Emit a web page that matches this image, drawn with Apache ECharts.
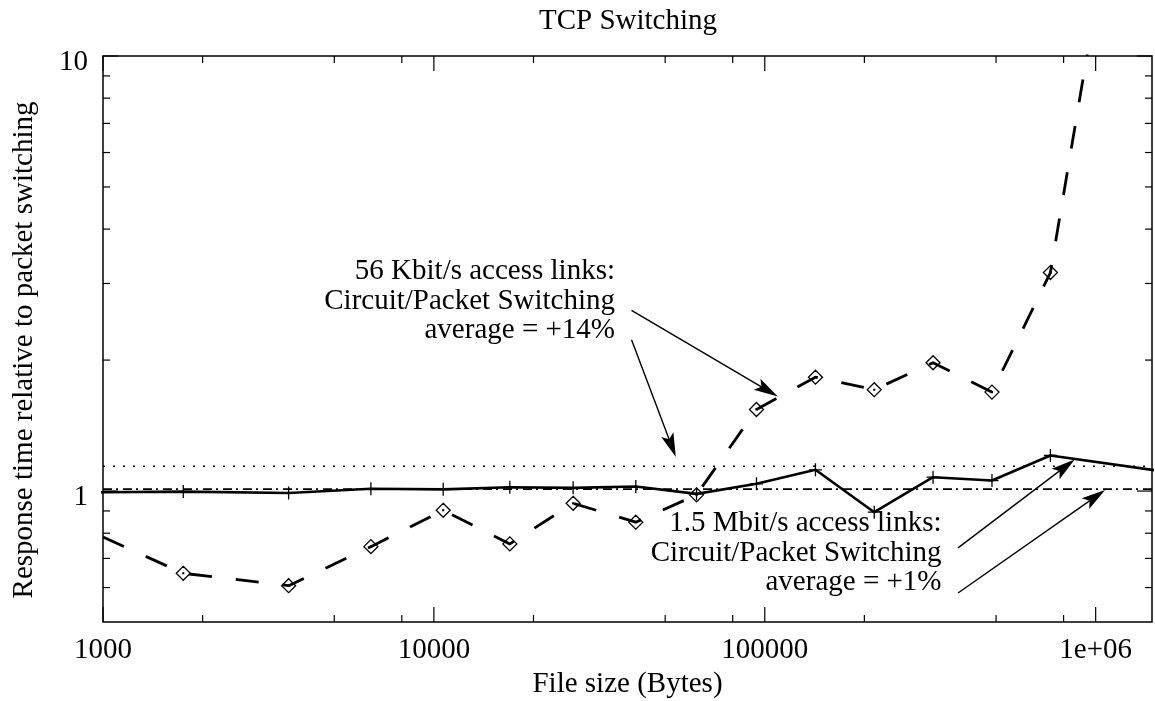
<!DOCTYPE html>
<html><head><meta charset="utf-8">
<script src="https://cdn.jsdelivr.net/npm/echarts@6/dist/echarts.min.js"></script>
<style>html,body{margin:0;padding:0;background:#fff}#c{width:1155px;height:701px}</style>
</head><body><div id="c"></div>
<script>
// ---- data ----
const fileSizes = [600, 1748, 3639, 6451, 10669, 16965, 26352, 40755, 62200, 94380, 142300, 214200, 322500, 486000, 729800, 1600000];
const kbit56 = [0.934, 0.647, 0.606, 0.745, 0.903, 0.756, 0.937, 0.848, 0.98, 1.540, 1.827, 1.710, 1.972, 1.688, 3.178, 110];
const mbit15 = [0.99, 0.997, 0.990, 1.012, 1.009, 1.020, 1.017, 1.024, 0.985, 1.039, 1.119, 0.894, 1.076, 1.057, 1.207, 1.109];
const avg56 = 1.14;
const avg15 = 1.01;
const xRange = [1000, 1480000];
const yRange = [0.5, 10];
const xMajorTicks = [1000, 10000, 100000, 1000000];
const xMinorTicks = [2000, 5000, 8000, 20000, 50000, 80000, 200000, 500000, 800000];
const yMajorTicks = [1, 10];
const yMinorTicks = [0.6, 0.7, 0.8, 0.9, 2, 3, 4, 5, 6, 7, 8, 9];
const xTickLabels = [[1000, '1000'], [10000, '10000'], [100000, '100000'], [1000000, '1e+06']];
const yTickLabels = [[1, '1'], [10, '10']];
// annotation arrows: [fromX, fromY, toX, toY] in data units
const arrows = [
  [39570, 2.228, 53840, 1.197],
  [39570, 2.603, 109500, 1.650],
  [383700, 0.740, 864400, 1.182],
  [383700, 0.583, 1068000, 1.006]
];
const title = 'TCP Switching';
const xName = 'File size (Bytes)';
const yName = 'Response time relative to packet switching';
const note56 = '56 Kbit/s access links:\nCircuit/Packet Switching\naverage = +14%';
const note15 = '1.5 Mbit/s access links:\nCircuit/Packet Switching\naverage = +1%';

// ---- chart ----
const FONT = 'Liberation Serif, Times New Roman, serif';
const FS = 29;
function pick(list, v) {
  for (const [k, s] of list) if (Math.abs(Math.log10(v) - Math.log10(k)) < 1e-6) return s;
  return '';
}
function tickRender(isX) {
  return function (params, api) {
    const cs = params.coordSys;
    const len = api.value(2) ? 15 : 7;
    const st = { stroke: '#000', lineWidth: 1.2 };
    if (isX) {
      const x = api.coord([api.value(0), api.value(1)])[0];
      const b = cs.y + cs.height, t = cs.y;
      return { type: 'group', children: [
        { type: 'line', shape: { x1: x, y1: b, x2: x, y2: b - len }, style: st },
        { type: 'line', shape: { x1: x, y1: t, x2: x, y2: t + len }, style: st }
      ] };
    } else {
      const y = api.coord([api.value(0), api.value(1)])[1];
      const l = cs.x, r = cs.x + cs.width;
      return { type: 'group', children: [
        { type: 'line', shape: { x1: l, y1: y, x2: l + len, y2: y }, style: st },
        { type: 'line', shape: { x1: r, y1: y, x2: r - len, y2: y }, style: st }
      ] };
    }
  };
}
function arrowRender(params, api) {
  const p1 = api.coord([api.value(0), api.value(1)]);
  const p2 = api.coord([api.value(2), api.value(3)]);
  const dx = p2[0] - p1[0], dy = p2[1] - p1[1];
  const L = Math.hypot(dx, dy), ux = dx / L, uy = dy / L, nx = -uy, ny = ux;
  const hl = 24, hw = 6.5, notch = 5;
  const bx = p2[0] - ux * hl, by = p2[1] - uy * hl;
  const mx = p2[0] - ux * (hl - notch), my = p2[1] - uy * (hl - notch);
  return { type: 'group', children: [
    { type: 'line', shape: { x1: p1[0], y1: p1[1], x2: mx, y2: my }, style: { stroke: '#000', lineWidth: 1.4 } },
    { type: 'polygon', shape: { points: [[p2[0], p2[1]], [bx + nx * hw, by + ny * hw], [mx, my], [bx - nx * hw, by - ny * hw]] }, style: { fill: '#000' } }
  ] };
}

const chart = echarts.init(document.getElementById('c'), null, { renderer: 'canvas' });
const xTicksData = xMajorTicks.map(v => [v, 1, 1]).concat(xMinorTicks.map(v => [v, 1, 0]));
const yTicksData = yMajorTicks.map(v => [xRange[0], v, 1]).concat(yMinorTicks.map(v => [xRange[0], v, 0]));

chart.setOption({
  animation: false,
  backgroundColor: '#fff',
  textStyle: { fontFamily: FONT },
  grid: { left: 103, right: 3, top: 56, bottom: 79, show: true, borderColor: '#000', borderWidth: 1.5, backgroundColor: 'transparent', containLabel: false, outerBoundsMode: 'none' },
  xAxis: {
    type: 'log', logBase: 10, min: xRange[0], max: xRange[1],
    name: xName, nameLocation: 'middle', nameGap: 43,
    nameTextStyle: { fontFamily: FONT, fontSize: FS, color: '#000', verticalAlign: 'top' },
    axisLine: { show: false }, axisTick: { show: false }, splitLine: { show: false }, minorTick: { show: false },
    axisLabel: { margin: 14, fontFamily: FONT, fontSize: FS, color: '#000', showMinLabel: true, showMaxLabel: true, formatter: v => pick(xTickLabels, v) }
  },
  yAxis: {
    type: 'log', logBase: 10, min: yRange[0], max: yRange[1],
    axisLine: { show: false }, axisTick: { show: false }, splitLine: { show: false }, minorTick: { show: false },
    axisLabel: { margin: 15, fontFamily: FONT, fontSize: FS, color: '#000', verticalAlign: 'top', lineHeight: 12, formatter: v => pick(yTickLabels, v) }
  },
  series: [
    { type: 'line', name: 'avg56', data: [[xRange[0], avg56], [xRange[1], avg56]], symbol: 'none', silent: true,
      lineStyle: { color: '#000', width: 1.4, type: [2, 8] } },
    { type: 'line', name: 'avg15', data: [[xRange[0], avg15], [xRange[1], avg15]], symbol: 'none', silent: true,
      lineStyle: { color: '#000', width: 1.6, type: [9, 4, 2, 5] } },
    { type: 'line', name: '1.5 Mbit/s', data: fileSizes.map((x, i) => [x, mbit15[i]]), clip: true, silent: true,
      symbol: 'path://M0,-1L0,1M-1,0L1,0', symbolSize: 13,
      itemStyle: { color: 'rgba(0,0,0,0)', borderColor: '#000', borderWidth: 1.3 },
      lineStyle: { color: '#000', width: 2.6 } },
    { type: 'line', name: '56 Kbit/s', data: fileSizes.map((x, i) => [x, kbit56[i]]), clip: true, silent: true,
      symbol: 'path://M0,-7L7,0L0,7L-7,0Z M-0.4,-0.4L0.4,-0.4L0.4,0.4L-0.4,0.4Z', symbolSize: 14,
      itemStyle: { color: 'rgba(0,0,0,0)', borderColor: '#000', borderWidth: 1.3 },
      lineStyle: { color: '#000', width: 2.8, type: [23, 24], dashOffset: 13.5 } },
    { type: 'custom', name: 'xticks', data: xTicksData, encode: { x: 0, y: 1 }, renderItem: tickRender(true), silent: true },
    { type: 'custom', name: 'yticks', data: yTicksData, encode: { x: 0, y: 1 }, renderItem: tickRender(false), silent: true },
    { type: 'custom', name: 'arrows', data: arrows, encode: { x: [0, 2], y: [1, 3] }, renderItem: arrowRender, silent: true }
  ],
  graphic: [
    { type: 'text', x: 628, y: 21.2, silent: true, style: { text: title, font: FS + 'px ' + FONT, fill: '#000', align: 'center', verticalAlign: 'middle' } },
    { type: 'text', x: 24.2, y: 350, rotation: Math.PI / 2, silent: true, style: { text: yName, font: FS + 'px ' + FONT, fill: '#000', align: 'center', verticalAlign: 'middle' } },
    { type: 'text', x: 615, y: 301.2, silent: true, style: { text: note56, font: FS + 'px ' + FONT, fill: '#000', align: 'right', verticalAlign: 'middle', lineHeight: 29.5 } },
    { type: 'text', x: 941.5, y: 552.9, silent: true, style: { text: note15, font: FS + 'px ' + FONT, fill: '#000', align: 'right', verticalAlign: 'middle', lineHeight: 29.5 } }
  ]
});
</script>
</body></html>
